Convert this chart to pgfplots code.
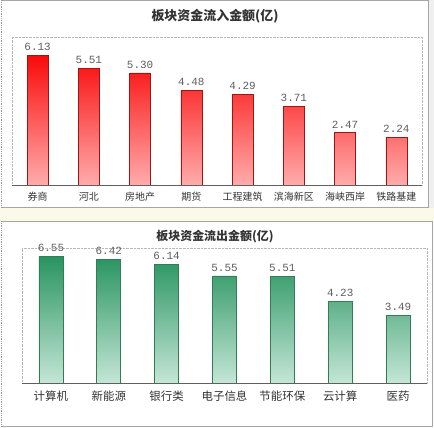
\documentclass[border=0pt]{standalone}
\usepackage{pgfplots}
\pgfplotsset{compat=1.18}
\usepackage{fontspec}
\setmainfont{Liberation Sans}
\newfontfamily\cjk{Noto Sans CJK SC}
\newfontfamily\monof{Liberation Mono}
\definecolor{redtop}{RGB}{250,10,10}
\definecolor{redmid}{RGB}{252,80,80}
\definecolor{redbot}{RGB}{255,172,172}
\definecolor{redline}{RGB}{160,20,20}
\definecolor{grtop}{RGB}{40,148,96}
\definecolor{grmid}{RGB}{115,188,150}
\definecolor{grbot}{RGB}{196,230,214}
\definecolor{grline}{RGB}{50,125,85}
\definecolor{stripbg}{RGB}{251,249,232}
\definecolor{labgray}{RGB}{95,95,95}
\begin{document}
\begin{tikzpicture}[x=1bp,y=1bp]
\path[use as bounding box] (0,0) rectangle (434,427);
\fill[white] (0,0) rectangle (434,427);
\fill[stripbg] (0,206) rectangle (434,219);
\fill[gray!12] (428.5,219) rectangle (434,427);
% frames
\draw[gray!70, line width=0.8bp] (1.5,219.5) -- (428,219.5) -- (428,426.5) -- (1.5,426.5);
\draw[gray!80, densely dotted, line width=0.8bp] (1.5,219.5) -- (1.5,426.5);
\draw[gray!70, line width=0.8bp] (1.5,206) -- (432,206) -- (432,0.5) -- (1.5,0.5);
\draw[gray!80, densely dotted, line width=0.8bp] (1.5,0.5) -- (1.5,206);
% titles
\node[font={\cjk\bfseries\fontsize{13}{15}\selectfont}, text=black!80] at (215,411) {板块资金流入金额(亿)};
\node[font={\cjk\bfseries\fontsize{12}{14}\selectfont}, text=black!80] at (215,190) {板块资金流出金额(亿)};

\begin{axis}[
  at={(12bp,242bp)}, anchor=south west,
  width=410bp, height=148bp, scale only axis,
  xmin=-0.5, xmax=7.5, ymin=0, ymax=7,
  ybar, bar width=21bp,
  axis line style={draw=gray!55, densely dotted},
  xtick=data, ytick=\empty, major tick length=0pt,
  xticklabels={券商,河北,房地产,期货,工程建筑,滨海新区,海峡西岸,铁路基建},
  xticklabel style={font={\cjk\fontsize{10}{12}\selectfont}, text=black!80, yshift=-4bp},
  nodes near coords,
  every node near coord/.append style={font={\monof\fontsize{11}{13}\selectfont}, text=labgray, yshift=1bp},
  /pgf/number format/.cd, fixed, precision=2, zerofill, assume math mode=true,
]
\addplot[draw=redline, line width=0.7bp, top color=redtop, middle color=redmid, bottom color=redbot]
  coordinates {(0,6.13) (1,5.51) (2,5.30) (3,4.48) (4,4.29) (5,3.71) (6,2.47) (7,2.24)};
\draw[gray!75!black, line width=0.8bp] (rel axis cs:0,0) -- (rel axis cs:1,0);
\end{axis}

\begin{axis}[
  at={(22bp,44bp)}, anchor=south west,
  width=405bp, height=135bp, scale only axis,
  xmin=-0.5, xmax=6.5, ymin=0, ymax=7,
  ybar, bar width=24bp,
  axis line style={draw=gray!55, densely dotted},
  xtick=data, ytick=\empty, major tick length=0pt,
  xticklabels={计算机,新能源,银行类,电子信息,节能环保,云计算,医药},
  xticklabel style={font={\cjk\fontsize{11.5}{14}\selectfont}, text=black!80, yshift=-4bp},
  nodes near coords,
  every node near coord/.append style={font={\monof\fontsize{11}{13}\selectfont}, text=labgray, yshift=1bp},
  /pgf/number format/.cd, fixed, precision=2, zerofill, assume math mode=true,
]
\addplot[draw=grline, line width=0.7bp, top color=grtop, middle color=grmid, bottom color=grbot]
  coordinates {(0,6.55) (1,6.42) (2,6.14) (3,5.55) (4,5.51) (5,4.23) (6,3.49)};
\draw[gray!75!black, line width=0.8bp] (rel axis cs:0,0) -- (rel axis cs:1,0);
\end{axis}
\end{tikzpicture}
\end{document}
